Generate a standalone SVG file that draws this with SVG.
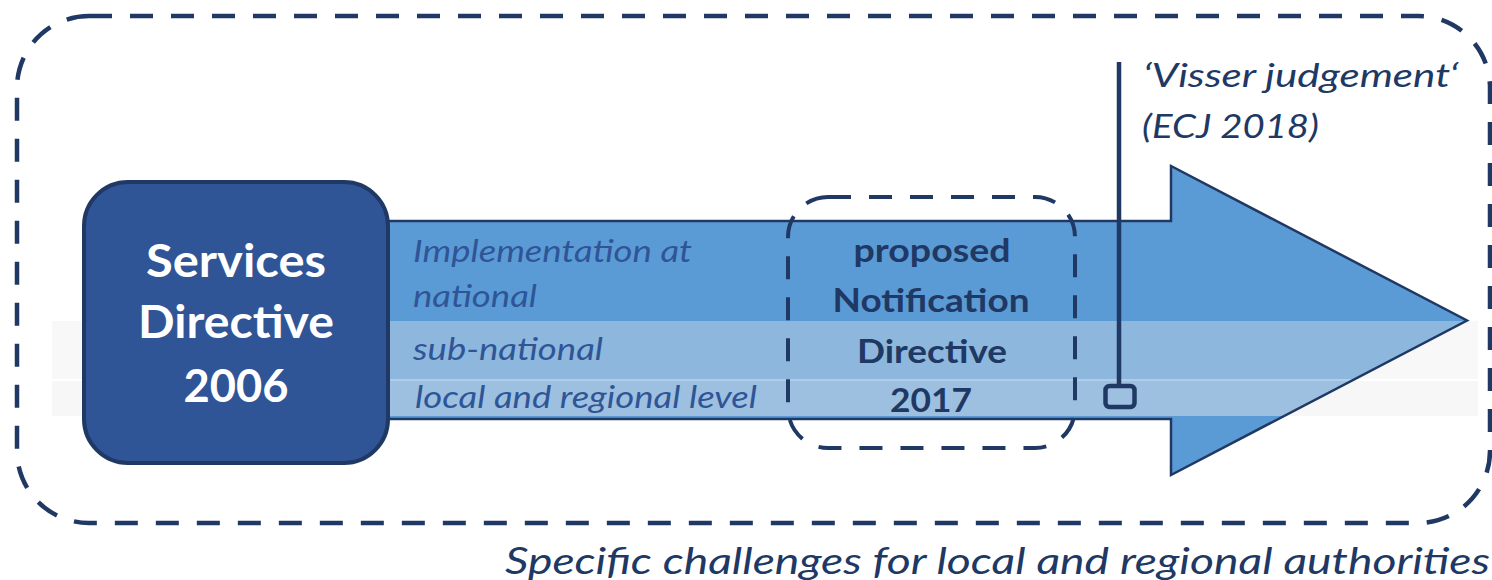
<svg xmlns="http://www.w3.org/2000/svg" width="1492" height="580" viewBox="0 0 1492 580">
  <style>
    .dash { fill: none; stroke: #203864; stroke-dasharray: 23 18; }
    .band { font-family: Lato, "Liberation Sans", sans-serif; font-style: italic; font-size: 30px; fill: #2F5597; }
    .mid { font-family: Lato, "Liberation Sans", sans-serif; font-weight: bold; font-size: 32px; fill: #203864; text-anchor: middle; }
    .box { font-family: Lato, "Liberation Sans", sans-serif; font-weight: bold; font-size: 45px; fill: #FFFFFF; text-anchor: middle; }
    .note { font-family: Lato, "Liberation Sans", sans-serif; font-style: italic; fill: #203864; }
  </style>
  <rect width="1492" height="580" fill="#FFFFFF"/>

  <g id="outer-frame">
    <rect class="dash" x="17" y="16" width="1473" height="507" rx="72" ry="72" stroke-width="4.5"/>
  </g>

  <g id="timeline-arrow">
    <path d="M 380 221 H 1171 V 166 L 1467 320.5 L 1171 475 V 419 H 380 Z" fill="#5B9BD5"/>
    <rect x="52" y="321" width="1426" height="58" fill="#EAEAEA" opacity="0.35"/>
    <rect x="52" y="381" width="1426" height="35" fill="#EEEEEE" opacity="0.45"/>
    <line x1="52" y1="380" x2="1478" y2="380" stroke="#FFFFFF" stroke-width="2" opacity="0.5"/>
    <path d="M 380 221 H 1171 V 166 L 1467 320.5 L 1171 475 V 419 H 380 Z" fill="none" stroke="#203864" stroke-width="2.5" stroke-linejoin="miter"/>
    <text class="band" x="413" y="262" textLength="279" lengthAdjust="spacingAndGlyphs">Implementation at</text>
    <text class="band" x="413" y="307" textLength="124" lengthAdjust="spacingAndGlyphs">national</text>
    <text class="band" x="413" y="360" textLength="190" lengthAdjust="spacingAndGlyphs">sub-national</text>
    <text class="band" x="415" y="408" textLength="342" lengthAdjust="spacingAndGlyphs">local and regional level</text>
  </g>

  <g id="services-directive">
    <rect x="84" y="182" width="304" height="281" rx="44" ry="44" fill="#2F5597" stroke="#203864" stroke-width="4"/>
    <text class="box" x="236" y="277" textLength="180" lengthAdjust="spacingAndGlyphs">Services</text>
    <text class="box" x="236" y="338" textLength="196" lengthAdjust="spacingAndGlyphs">Directive</text>
    <text class="box" x="236" y="402" textLength="105" lengthAdjust="spacingAndGlyphs">2006</text>
  </g>

  <g id="notification-directive">
    <rect class="dash" x="788" y="197" width="287" height="251" rx="40" ry="40" stroke-width="4"/>
    <text class="mid" x="932" y="262" textLength="157" lengthAdjust="spacingAndGlyphs">proposed</text>
    <text class="mid" x="931" y="312" textLength="197" lengthAdjust="spacingAndGlyphs">Notification</text>
    <text class="mid" x="932" y="363" textLength="150" lengthAdjust="spacingAndGlyphs">Directive</text>
    <text class="mid" x="931" y="412" textLength="82" lengthAdjust="spacingAndGlyphs">2017</text>
  </g>

  <g id="connectors">
    <line x1="1119" y1="62" x2="1119" y2="386" stroke="#203864" stroke-width="4.5"/>
    <rect x="1105.5" y="386" width="29" height="21" rx="4" ry="4" fill="none" stroke="#203864" stroke-width="4.5"/>
  </g>

  <g id="visser-judgement">
    <text class="note" x="1143" y="87" font-size="33" textLength="315" lengthAdjust="spacingAndGlyphs">‘Visser judgement‘</text>
    <text class="note" x="1142" y="138" font-size="33" textLength="177" lengthAdjust="spacingAndGlyphs">(ECJ 2018)</text>
  </g>

  <g id="caption">
    <text class="note" x="505" y="574" font-size="37" textLength="985" lengthAdjust="spacingAndGlyphs">Specific challenges for local and regional authorities</text>
  </g>
</svg>
